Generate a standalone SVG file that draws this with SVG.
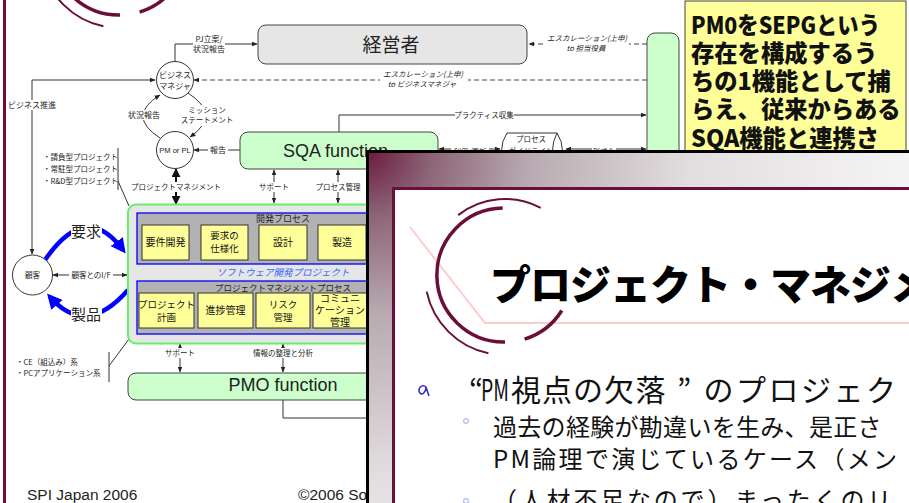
<svg xmlns="http://www.w3.org/2000/svg" width="909" height="503" viewBox="0 0 909 503">
<defs>
<style>
.t{font-family:"Noto Sans CJK JP","Noto Sans",sans-serif;fill:#222}
.l{font-family:"Liberation Sans",Arial,sans-serif;fill:#222}
.s7{font-size:7.5px}
.s8{font-size:8px}
.it{font-style:italic}
.c{text-anchor:middle}
.ln{fill:none;stroke:#333;stroke-width:1}
.dash{fill:none;stroke:#444;stroke-width:1.2;stroke-dasharray:5 3}
.bg{fill:#fff}
.circ{fill:#fff;stroke:#333;stroke-width:1}
.yb{fill:#ffff99;stroke:#333;stroke-width:1}
.yt{font-family:"Noto Sans CJK JP",sans-serif;font-size:10px;fill:#111;text-anchor:middle}
.y2{font-size:9.5px}
.green{fill:#ccffcc;stroke:#444;stroke-width:1}
.proc{fill:#b2b2b2;stroke:#0000ff;stroke-width:1.3}
.mar{fill:none;stroke:#6b0f3a}
.ov{font-family:"Noto Sans CJK JP",sans-serif;fill:#111}
</style>
<marker id="ah" viewBox="0 0 10 10" refX="9" refY="5" markerWidth="6" markerHeight="6" markerUnits="userSpaceOnUse" orient="auto-start-reverse"><path d="M0,1 L10,5 L0,9 z" fill="#222"/></marker>
<marker id="ahk" viewBox="0 0 10 10" refX="9" refY="5" markerWidth="9" markerHeight="9" markerUnits="userSpaceOnUse" orient="auto-start-reverse"><path d="M0,0 L10,5 L0,10 z" fill="#111"/></marker>
<marker id="ahb" viewBox="0 0 10 10" refX="7" refY="5" markerWidth="15" markerHeight="15" markerUnits="userSpaceOnUse" orient="auto"><path d="M0,0 L10,5 L0,10 z" fill="#0000ff"/></marker>
<radialGradient id="wg" gradientUnits="userSpaceOnUse" cx="367" cy="151" r="540">
<stop offset="0" stop-color="#6b1a3d"/>
<stop offset="0.12" stop-color="#8c6577"/>
<stop offset="0.3" stop-color="#b8aab0"/>
<stop offset="0.6" stop-color="#e2dee0"/>
<stop offset="1" stop-color="#f5f4f5"/>
</radialGradient>
</defs>

<rect x="0" y="0" width="909" height="503" fill="#fff"/>
<rect x="3" y="0" width="3" height="503" fill="#6b0f3a"/>

<g id="bg-logo">
<path class="mar" stroke-width="3.5" d="M117.7,-119 A67,67 0 0 0 120,15"/>
<path class="mar" stroke-width="3.5" d="M139.6,12.1 A67,67 0 0 0 176.8,-16.5"/>
<path class="mar" stroke-width="2" d="M41.7,-35.4 A80,80 0 0 0 103.4,26.3"/>
</g>

<g id="connectors">
<path class="ln" d="M175,62 V44 H257" marker-end="url(#ah)"/>
<path class="ln" d="M32,254 V80 H155" marker-start="url(#ah)" marker-end="url(#ah)"/>
<path class="dash" d="M647,44 H529" marker-end="url(#ah)"/>
<path class="dash" d="M647,80 H194" marker-end="url(#ah)"/>
<path class="ln" d="M160,138 Q126,116 160,95" marker-end="url(#ah)"/>
<path class="ln" d="M188,93 Q222,115 190,137" marker-end="url(#ah)"/>
<path class="ln" d="M240,150 H194" marker-end="url(#ah)"/>
<path class="ln" d="M339,132 V115 H646" marker-end="url(#ah)"/>
<path class="ln" d="M439,149 H500" marker-start="url(#ah)" marker-end="url(#ah)"/>
<path class="ln" d="M566,149 H646" marker-start="url(#ah)" marker-end="url(#ah)"/>
<path fill="none" stroke="#111" stroke-width="2" d="M176,169 V204" marker-start="url(#ahk)" marker-end="url(#ahk)"/>
<path class="ln" d="M274,170 V203" marker-start="url(#ah)" marker-end="url(#ah)"/>
<path class="ln" d="M338,170 V203" marker-start="url(#ah)" marker-end="url(#ah)"/>
<path class="ln" d="M180,344 V372" marker-start="url(#ah)" marker-end="url(#ah)"/>
<path class="ln" d="M283,344 V372" marker-start="url(#ah)" marker-end="url(#ah)"/>
<path class="ln" d="M283,400 V418 H380"/>
<path class="ln" d="M53,275 H127" marker-start="url(#ah)" marker-end="url(#ah)"/>
<path fill="none" stroke="#0000ff" stroke-width="4.5" d="M45,260 Q86,200 123,250" marker-end="url(#ahb)"/>
<path fill="none" stroke="#0000ff" stroke-width="4.5" d="M128,290 Q86,338 50,297" marker-end="url(#ahb)"/>
<path class="ln" d="M189,242 H200" marker-end="url(#ah)"/>
<path class="ln" d="M248,242 H258" marker-end="url(#ah)"/>
<path class="ln" d="M307,242 H317" marker-end="url(#ah)"/>
<path class="ln" d="M366,242 H378" marker-end="url(#ah)"/>
<path class="ln" d="M118,148 V190 M118,181 L129,206"/>
<path class="ln" d="M109,352 V382 M109,366 L129,339"/>
</g>

<g id="labels">
<rect class="bg" x="193" y="34" width="32" height="21"/>
<text class="t s8 c" x="209" y="42">PJ立案/</text>
<text class="t s8 c" x="209" y="52">状況報告</text>
<rect class="bg" x="8" y="100" width="49" height="10"/>
<text class="t s8" x="8" y="108">ビジネス推進</text>
<rect class="bg" x="128" y="110" width="33" height="10"/>
<text class="t s8 c" x="144" y="118">状況報告</text>
<rect class="bg" x="183" y="105" width="48" height="21"/>
<text class="t s7 c" x="207" y="113">ミッション</text>
<text class="t s7 c" x="207" y="123">ステートメント</text>
<rect class="bg" x="208" y="145" width="20" height="10"/>
<text class="t s8 c" x="218" y="153">報告</text>
<rect class="bg" x="545" y="33" width="84" height="20"/>
<text class="t s7 c it" x="587" y="41">エスカレーション(上申)</text>
<text class="t s7 c it" x="586" y="51">to 担当役員</text>
<rect class="bg" x="380" y="69" width="88" height="20"/>
<text class="t s7 c it" x="423" y="77">エスカレーション(上申)</text>
<text class="t s7 c it" x="422" y="87">to ビジネスマネジャ</text>
<rect class="bg" x="455" y="110" width="59" height="10"/>
<text class="t s7 c" x="484" y="118">プラクティス収集</text>
<rect class="bg" x="451" y="144" width="38" height="10"/>
<text class="t s7 c" x="470" y="155">利用/更新</text>
<rect class="bg" x="592" y="144" width="24" height="10"/>
<text class="t s7 c" x="604" y="155">形式化</text>
<rect class="bg" x="134" y="182" width="84" height="10"/>
<text class="t s7 c" x="176" y="190">プロジェクトマネジメント</text>
<rect class="bg" x="260" y="182" width="29" height="10"/>
<text class="t s7 c" x="274" y="190">サポート</text>
<rect class="bg" x="315" y="182" width="47" height="10"/>
<text class="t s7 c" x="338" y="190">プロセス管理</text>
<rect class="bg" x="166" y="348" width="29" height="10"/>
<text class="t s7 c" x="180" y="356">サポート</text>
<rect class="bg" x="251" y="348" width="64" height="10"/>
<text class="t s7 c" x="283" y="356">情報の整理と分析</text>
<rect class="bg" x="69" y="270" width="44" height="10"/>
<text class="t s7 c" x="91" y="278">顧客とのI/F</text>
<rect class="bg" x="71" y="223" width="31" height="17"/>
<text class="t c" x="86" y="237" font-size="15">要求</text>
<rect class="bg" x="71" y="306" width="31" height="17"/>
<text class="t c" x="86" y="320" font-size="15">製品</text>
<text class="t s7" x="43" y="160">・請負型プロジェクト</text>
<text class="t s7" x="43" y="172">・常駐型プロジェクト</text>
<text class="t s7" x="43" y="184">・R&amp;D型プロジェクト</text>
<text class="t s7" x="16" y="365">・CE（組込み）系</text>
<text class="t s7" x="16" y="376">・PCアプリケーション系</text>
</g>

<g id="node-keieisha">
<rect x="258" y="25" width="269" height="39" rx="8" fill="#e6e6e6" stroke="#444" stroke-width="1"/>
<text class="t c" x="391" y="52" font-size="19">経営者</text>
</g>

<g id="node-business-manager">
<circle class="circ" cx="175" cy="80" r="18.5"/>
<text class="t s8 c" x="175" y="78">ビジネス</text>
<text class="t s8 c" x="175" y="89">マネジャ</text>
</g>

<g id="node-pm">
<circle class="circ" cx="175" cy="150" r="18.5"/>
<text class="l c" x="175" y="153" font-size="7.5">PM or PL</text>
</g>

<g id="node-customer">
<circle class="circ" cx="32.5" cy="275" r="20"/>
<text class="t s7 c" x="32.5" y="278">顧客</text>
</g>

<g id="node-sqa">
<rect class="green" x="240" y="132" width="198" height="37" rx="8"/>
<text class="l" x="283" y="157" font-size="18">SQA function</text>
</g>

<g id="node-guideline">
<path d="M507,133 H557 Q568,150 557,170 H507 Q496,150 507,133 Z" fill="#fff" stroke="#333" stroke-width="1"/>
<path d="M557,133 Q548,150 557,170" fill="none" stroke="#333" stroke-width="1"/>
<text class="t s7 c" x="531" y="142">プロセス</text>
<text class="t s7 c" x="531" y="154">ガイドライン</text>
</g>

<g id="node-sepg">
<rect class="green" x="647" y="33" width="32" height="400" rx="8"/>
</g>

<g id="node-note">
<rect x="685" y="1" width="221" height="200" fill="#ffff99" stroke="#444" stroke-width="1"/>
<g font-family="'Noto Sans CJK JP',sans-serif" font-weight="900" font-size="23.3" fill="#111">
<text x="691" y="34" textLength="189" lengthAdjust="spacingAndGlyphs">PM0をSEPGという</text>
<text x="691" y="62">存在を構成するう</text>
<text x="691" y="90">ちの1機能として捕</text>
<text x="691" y="118">らえ、従来からある</text>
<text x="691" y="147">SQA機能と連携さ</text>
</g>
</g>

<g id="node-project">
<rect x="128" y="204.5" width="420" height="139" rx="8" fill="#e6e6e6" stroke="#66ee66" stroke-width="2"/>
<rect class="proc" x="137" y="213" width="320" height="51"/>
<text class="t c" x="283" y="221.5" font-size="9">開発プロセス</text>
<rect class="yb" x="142" y="225" width="47" height="35"/>
<text class="yt" x="165.5" y="246">要件開発</text>
<rect class="yb" x="201" y="225" width="47" height="35"/>
<text class="yt y2" x="224.5" y="239">要求の</text>
<text class="yt y2" x="224.5" y="251.5">仕様化</text>
<rect class="yb" x="259" y="225" width="48" height="35"/>
<text class="yt" x="283" y="246">設計</text>
<rect class="yb" x="318" y="225" width="48" height="35"/>
<text class="yt" x="342" y="246">製造</text>
<text class="t c it" x="283" y="276" font-size="9.5" style="fill:#3366ff">ソフトウェア開発プロジェクト</text>
<rect class="proc" x="137" y="281" width="320" height="53"/>
<text class="t c" x="283" y="291" font-size="8.5">プロジェクトマネジメントプロセス</text>
<rect class="yb" x="139" y="293" width="55" height="35"/>
<text class="yt y2" x="166.5" y="308">プロジェクト</text>
<text class="yt y2" x="166.5" y="321">計画</text>
<rect class="yb" x="198" y="293" width="55" height="35"/>
<text class="yt" x="225.5" y="314">進捗管理</text>
<rect class="yb" x="256" y="293" width="54" height="35"/>
<text class="yt y2" x="283" y="308">リスク</text>
<text class="yt y2" x="283" y="321">管理</text>
<rect class="yb" x="313" y="293" width="54" height="35"/>
<text class="yt" x="340" y="302" font-size="9">コミュニ</text>
<text class="yt" x="340" y="314" font-size="9">ケーション</text>
<text class="yt" x="340" y="326" font-size="9">管理</text>
</g>

<g id="node-pmo">
<rect class="green" x="128" y="373" width="400" height="27" rx="8"/>
<text class="l c" x="283" y="391" font-size="18">PMO function</text>
</g>

<g id="footer">
<text class="l" x="27" y="500" font-size="15.5">SPI Japan 2006</text>
<text class="l" x="298" y="500" font-size="15.5">©2006 So</text>
</g>

<g id="overlay-window">
<rect x="367.5" y="151.5" width="600" height="400" fill="url(#wg)" stroke="#000" stroke-width="3"/>
<rect x="393.5" y="188.5" width="600" height="400" fill="#fff" stroke="#6b0f3a" stroke-width="3"/>
<path d="M410,227 L485,323 H909" fill="none" stroke="#ffcccc" stroke-width="2"/>
<path class="mar" stroke-width="3.5" d="M502.7,208 A67,67 0 0 0 505,342"/>
<path class="mar" stroke-width="3.5" d="M524.6,339.1 A67,67 0 0 0 561.8,310.5"/>
<path class="mar" stroke-width="2" d="M426.7,291.6 A80,80 0 0 0 488.4,353.3"/>
<path class="mar" stroke-width="2" d="M458.2,215.1 A76,76 0 0 1 540.7,207.9"/>
<text x="490" y="300" font-family="'Noto Sans CJK JP',sans-serif" font-weight="900" font-size="41" letter-spacing="-1" fill="#000">プロジェクト・マネジメ</text>
<path d="M426,387 C422,383 417,389 420,393 C422,396 426,392 426,387 L429,396" fill="none" stroke="#3333cc" stroke-width="1.6"/>
<text class="ov" x="469" y="401" font-size="30">“<tspan x="481" textLength="28" lengthAdjust="spacingAndGlyphs">PM</tspan><tspan x="511 542 573 604 635.5">視点の欠落</tspan><tspan x="677">”</tspan><tspan x="703.5 736 768.5 801 833.5 866">のプロジェク</tspan></text>
<circle cx="466" cy="421" r="2.4" fill="none" stroke="#b8b8ff" stroke-width="1.2"/>
<text class="ov" x="493" y="436" font-size="24" letter-spacing="0.3">過去の経験が勘違いを生み、是正さ</text>
<text class="ov" x="493" y="468" font-size="24" letter-spacing="2.3">PM論理で演じているケース（メン</text>
<circle cx="466" cy="501" r="2.4" fill="none" stroke="#b8b8ff" stroke-width="1.2"/>
<text class="ov" x="493" y="509" font-size="24" letter-spacing="2.8">（人材不足なので）まったくのリ</text>
</g>
</svg>
